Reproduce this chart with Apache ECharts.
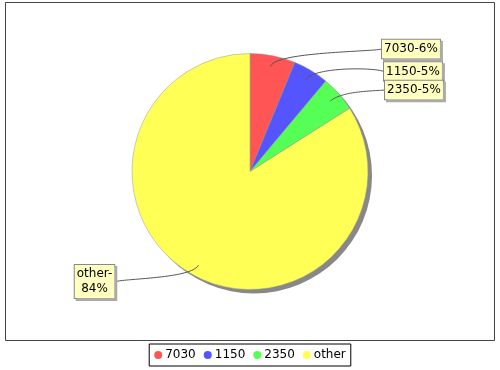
<!DOCTYPE html>
<html><head><meta charset="utf-8">
<script src="https://cdn.jsdelivr.net/npm/echarts@6/dist/echarts.min.js"></script>
<style>html,body{margin:0;padding:0;background:#fff}#c{width:500px;height:370px}</style>
</head><body><div id="c"></div>
<script>
// ---- data ----
const categories = ['7030', '1150', '2350', 'other'];
const values = [6.2, 4.9, 4.9, 84.0];
const colors = ['#FF5555', '#5555FF', '#55FF55', '#FFFF55'];
const wrapAfterDash = ['other'];

// ---- layout ----
const cx = 250, cy = 171.5, R = 118;
const linkR = 107, elbowR = 122;
const labelAnchors = [
  { x: 382, y: 49, align: 'left', lineX: 382 },
  { x: 384, y: 71.5, align: 'left', lineX: 384 },
  { x: 385, y: 90, align: 'left', lineX: 385 },
  { x: 94.5, y: 281.5, align: 'center', lineX: 116 }
];

const total = values.reduce((a, b) => a + b, 0);
function midAngle(i) {
  let cum = 0;
  for (let k = 0; k < i; k++) cum += values[k];
  return (cum + values[i] / 2) / total * Math.PI * 2; // clockwise from top
}
function bez(p0, p1, p2, p3, n) {
  const pts = [];
  for (let i = 0; i <= n; i++) {
    const t = i / n, u = 1 - t;
    pts.push([
      u*u*u*p0[0] + 3*u*u*t*p1[0] + 3*u*t*t*p2[0] + t*t*t*p3[0],
      u*u*u*p0[1] + 3*u*u*t*p1[1] + 3*u*t*t*p2[1] + t*t*t*p3[1]
    ]);
  }
  return pts;
}

const mainData = categories.map((c, i) => ({ name: c, value: values[i], itemStyle: { color: colors[i] } }));

const chart = echarts.init(document.getElementById('c'), null, { renderer: 'canvas' });
chart.setOption({
  animation: false,
  backgroundColor: '#fff',
  textStyle: { fontFamily: 'DejaVu Sans' },
  graphic: [{
    type: 'rect', z: -10, silent: true,
    shape: { x: 5.5, y: 2.5, width: 489, height: 338 },
    style: { fill: '#fff', stroke: '#444', lineWidth: 1 }
  }],
  legend: {
    data: categories,
    left: 'center', top: 344,
    orient: 'horizontal',
    icon: 'circle', itemWidth: 8, itemHeight: 8, itemGap: 8,
    padding: [5, 5],
    borderColor: '#000', borderWidth: 1,
    itemStyle: { borderWidth: 0 },
    textStyle: { fontFamily: 'DejaVu Sans', fontSize: 12, color: '#000', padding: [0, 0, 0, -2] },
    selectedMode: false
  },
  series: [
    {
      type: 'pie', silent: true, z: 1,
      center: [cx + 4, cy + 4], radius: R,
      label: { show: false }, labelLine: { show: false },
      itemStyle: { color: '#888' },
      emphasis: { disabled: true },
      data: [{ name: '', value: 1 }]
    },
    {
      type: 'pie', silent: true, z: 2,
      center: [cx, cy], radius: R,
      startAngle: 90, clockwise: true,
      label: { show: false }, labelLine: { show: false },
      itemStyle: { borderColor: '#999', borderWidth: 0.5 },
      emphasis: { disabled: true },
      data: mainData
    },
    {
      type: 'pie', silent: true, z: 3,
      center: [cx, cy], radius: linkR,
      startAngle: 90, clockwise: true,
      avoidLabelOverlap: false,
      itemStyle: { color: 'rgba(0,0,0,0)' },
      emphasis: { disabled: true },
      label: {
        show: true, position: 'outside',
        fontFamily: 'DejaVu Sans', fontSize: 12, color: '#000', lineHeight: 14.5,
        backgroundColor: '#FFFFC0', borderColor: '#888', borderWidth: 1,
        padding: [2, 2, 2, 2],
        shadowColor: '#aaa', shadowOffsetX: 2, shadowOffsetY: 2, shadowBlur: 0,
        formatter: p => p.name + '-' + (wrapAfterDash.indexOf(p.name) >= 0 ? '\n' : '') + Math.round(p.percent) + '%'
      },
      labelLine: { show: true, length: 10, length2: 10, lineStyle: { color: '#555', width: 1 } },
      labelLayout: function (params) {
        const i = params.dataIndex;
        const la = labelAnchors[i];
        const a = midAngle(i);
        const s = Math.sin(a), c = Math.cos(a);
        const right = s > 0;
        const p0 = [cx + linkR * s, cy - linkR * c];
        const p1 = [cx + elbowR * s, cy - elbowR * c];
        const p2 = [cx + (right ? elbowR : -elbowR), p1[1]];
        const p3 = [la.lineX, la.y];
        return {
          x: la.x, y: la.y, align: la.align, verticalAlign: 'middle',
          labelLinePoints: bez(p0, p1, p2, p3, 40)
        };
      },
      data: categories.map((c, i) => ({ name: c, value: values[i] }))
    }
  ]
});
</script>
</body></html>
